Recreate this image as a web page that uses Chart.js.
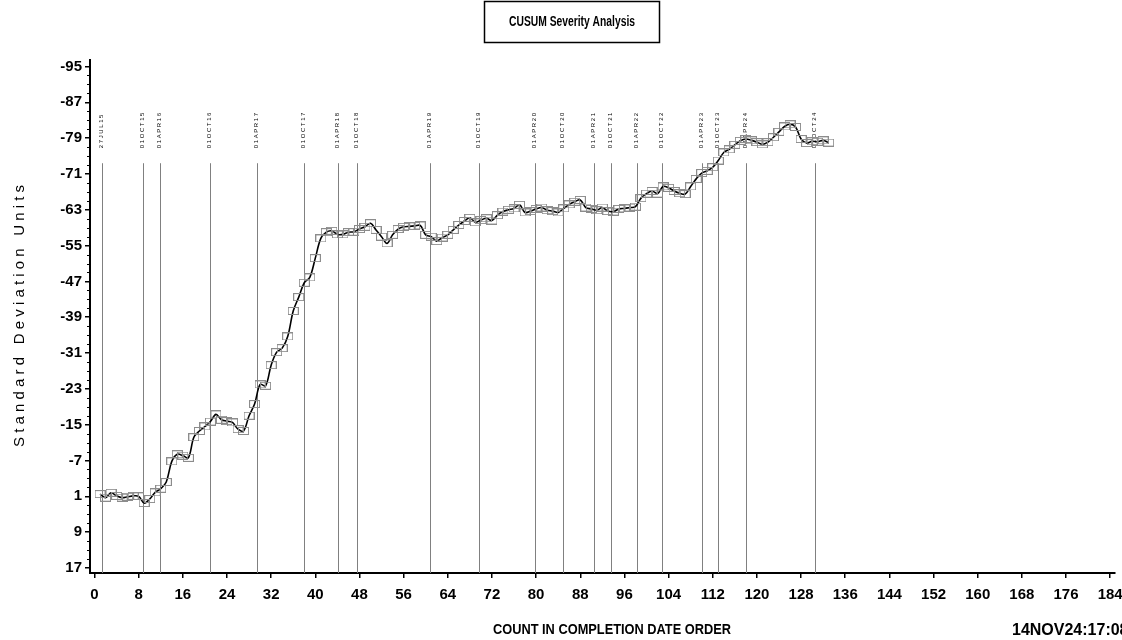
<!DOCTYPE html>
<html>
<head>
<meta charset="utf-8">
<title>CUSUM Severity Analysis</title>
<script src="https://cdn.jsdelivr.net/npm/chart.js@4.4.1/dist/chart.umd.min.js"></script>
<style>
  html, body { margin: 0; padding: 0; background: #ffffff; }
  #wrap { width: 1122px; height: 640px; position: relative; }
</style>
</head>
<body>
<div id="wrap"><canvas id="cusumChart" width="1122" height="640"></canvas></div>
<script>
// ---- text ----
const chartTitle = 'CUSUM Severity Analysis';
const yAxisTitle = 'Standard Deviation Units';
const xAxisTitle = 'COUNT IN COMPLETION DATE ORDER';
const runStamp = '14NOV24:17:08';

// ---- cumulative sum, one value per completed item (count 1, 2, 3, ...) ----
const cusum = [
   0.5,   1.3,   0.2,   0.9,   1.3,   1.1,   0.9,   1.0,   2.5,   1.6,
   0.1,  -0.7,  -2.2,  -6.8,  -8.4,  -8.1,  -7.6, -12.2, -13.6, -14.6,
 -15.7, -17.3, -16.1, -15.8, -15.5, -14.0, -13.6, -17.0, -19.6, -24.0,
 -23.7, -28.3, -31.2, -32.1, -34.7, -40.4, -43.5, -46.7, -47.9, -52.2,
 -56.6, -58.0, -58.3, -57.5, -57.5, -58.0, -58.1, -58.7, -59.2, -60.0,
 -58.5, -57.0, -55.5, -57.4, -58.7, -59.2, -59.3, -59.4, -59.5, -57.4,
 -57.0, -56.0, -56.8, -57.4, -58.5, -59.6, -60.5, -61.2, -60.2, -60.7,
 -61.1, -60.6, -61.8, -62.6, -63.0, -63.3, -64.1, -62.4, -62.7, -63.2,
 -63.5, -62.9, -62.7, -62.4, -63.3, -64.2, -64.8, -65.2, -63.5, -63.2,
 -62.9, -63.5, -62.7, -62.6, -63.2, -63.3, -63.5, -63.7, -65.6, -66.6,
 -67.2, -66.6, -68.2, -67.9, -67.2, -66.7, -66.5, -68.2, -69.9, -71.2,
 -71.7, -72.5, -74.0, -75.8, -76.5, -77.5, -78.4, -78.8, -78.5, -78.1,
 -77.6, -78.1, -79.2, -80.4, -81.6, -82.1, -81.5, -78.8, -77.9, -78.3,
 -78.2, -78.5, -78.0
];

// ---- axis ticks ----
const xTickValues = [0, 8, 16, 24, 32, 40, 48, 56, 64, 72, 80, 88, 96, 104, 112, 120, 128, 136, 144, 152, 160, 168, 176, 184];
const yTickValues = [-95, -87, -79, -71, -63, -55, -47, -39, -31, -23, -15, -7, 1, 9, 17];

// ---- calendar reference marks along the count axis ----
const refDates = ['27JUL15', '01OCT15', '01APR16', '01OCT16', '01APR17', '01OCT17', '01APR18', '01OCT18',
                  '01APR19', '01OCT19', '01APR20', '01OCT20', '01APR21', '01OCT21', '01APR22', '01OCT22',
                  '01APR23', '01OCT23', '01APR24', '01OCT24'];
const refCounts = [1.3, 8.7, 11.9, 21.0, 29.5, 37.9, 44.1, 47.6,
                   60.8, 69.7, 79.8, 84.8, 90.5, 93.5, 98.2, 102.8,
                   110.1, 113.0, 118.0, 130.6];
const refTopValue = -73.4;

// ---- styling ----
const NARROW = "'Liberation Sans Narrow', 'Arial Narrow', 'Liberation Sans', Arial, sans-serif";
const SANS = "'Liberation Sans', Arial, Helvetica, sans-serif";

// open rectangular marker used for each observation
const marker = document.createElement('canvas');
marker.width = 11; marker.height = 8;
(function () {
  const m = marker.getContext('2d');
  m.strokeStyle = '#8c8c8c';
  m.lineWidth = 1;
  m.strokeRect(0.5, 0.5, 10, 7);
})();

const decor = {
  id: 'decor',
  beforeDatasetsDraw(chart) {
    const { ctx, chartArea, scales: { x, y } } = chart;
    const top = y.getPixelForValue(refTopValue);
    ctx.save();
    refCounts.forEach((c, i) => {
      const px = Math.round(x.getPixelForValue(c)) + 0.5;
      ctx.strokeStyle = '#808080';
      ctx.lineWidth = 1;
      ctx.beginPath();
      ctx.moveTo(px, top);
      ctx.lineTo(px, chartArea.bottom);
      ctx.stroke();

      ctx.save();
      ctx.translate(px - 1, top - 15);
      ctx.rotate(-Math.PI / 2);
      ctx.font = '6px ' + SANS;
      ctx.letterSpacing = '1.6px';
      ctx.fillStyle = '#000';
      ctx.textAlign = 'left';
      ctx.textBaseline = 'middle';
      ctx.fillText(refDates[i], 0, 0);
      ctx.restore();
    });
    ctx.restore();
  },
  afterDraw(chart) {
    const { ctx, chartArea, scales: { y } } = chart;
    ctx.save();

    // minor ticks on the vertical axis
    ctx.strokeStyle = '#000';
    ctx.lineWidth = 1;
    for (let v = yTickValues[0]; v <= yTickValues[yTickValues.length - 1]; v += 2) {
      if ((v - yTickValues[0]) % 8 === 0) continue;
      const py = Math.round(y.getPixelForValue(v)) + 0.5;
      ctx.beginPath();
      ctx.moveTo(chartArea.left - 3, py);
      ctx.lineTo(chartArea.left, py);
      ctx.stroke();
    }

    // boxed title
    ctx.lineWidth = 1.5;
    ctx.strokeStyle = '#000';
    ctx.strokeRect(484.5, 1.5, 175, 41);
    ctx.fillStyle = '#000';
    ctx.font = 'bold 14px ' + NARROW;
    ctx.textAlign = 'center';
    ctx.textBaseline = 'middle';
    ctx.fillText(chartTitle, 572, 22, 126);

    // vertical axis title, letter spaced
    ctx.save();
    ctx.translate(20, 316);
    ctx.rotate(-Math.PI / 2);
    ctx.font = '15px ' + SANS;
    ctx.letterSpacing = '0px';
    const w0 = ctx.measureText(yAxisTitle).width;
    const sp = Math.max(0, (262 - w0) / (yAxisTitle.length - 1));
    ctx.letterSpacing = sp.toFixed(2) + 'px';
    ctx.textAlign = 'left';
    ctx.textBaseline = 'middle';
    ctx.fillText(yAxisTitle, -131, 0);
    ctx.restore();

    // horizontal axis title
    ctx.font = 'bold 14px ' + NARROW;
    ctx.textAlign = 'center';
    ctx.textBaseline = 'alphabetic';
    ctx.fillText(xAxisTitle, 612, 634, 238);

    // run stamp
    ctx.font = 'bold 16px ' + SANS;
    ctx.textAlign = 'left';
    ctx.fillText(runStamp, 1012, 635);

    ctx.restore();
  }
};

new Chart(document.getElementById('cusumChart'), {
  type: 'line',
  data: {
    datasets: [{
      data: cusum.map((v, i) => ({ x: i + 1, y: v })),
      borderColor: '#000000',
      borderWidth: 1.6,
      tension: 0.35,
      fill: false,
      pointStyle: marker,
      pointRadius: 5,
      pointHoverRadius: 5
    }]
  },
  options: {
    responsive: false,
    animation: false,
    devicePixelRatio: 1,
    events: [],
    layout: { padding: { top: 60, right: 7, left: 0, bottom: 0 } },
    plugins: { legend: { display: false }, tooltip: { enabled: false }, title: { display: false } },
    scales: {
      x: {
        type: 'linear',
        min: -0.815,
        max: 184.87,
        afterBuildTicks: (s) => { s.ticks = xTickValues.map(v => ({ value: v })); },
        afterFit: (s) => { s.height = 67; s.paddingLeft = 0; s.paddingRight = 0; },
        border: { display: true, color: '#000', width: 2 },
        grid: { drawOnChartArea: false, drawTicks: true, tickLength: 5, color: '#000', lineWidth: 1.5 },
        ticks: {
          font: { family: NARROW, size: 15, weight: 'bold' },
          color: '#000',
          padding: 8,
          maxRotation: 0,
          autoSkip: false
        }
      },
      y: {
        type: 'linear',
        reverse: true,
        min: -96.45,
        max: 18.12,
        afterBuildTicks: (s) => { s.ticks = yTickValues.map(v => ({ value: v })); },
        afterFit: (s) => { s.width = 90; s.paddingTop = 0; s.paddingBottom = 0; },
        border: { display: true, color: '#000', width: 2 },
        grid: { drawOnChartArea: false, drawTicks: true, tickLength: 5, color: '#000', lineWidth: 1.5 },
        ticks: {
          font: { family: NARROW, size: 15, weight: 'bold' },
          color: '#000',
          padding: 3,
          autoSkip: false
        }
      }
    }
  },
  plugins: [decor]
});
</script>
</body>
</html>
